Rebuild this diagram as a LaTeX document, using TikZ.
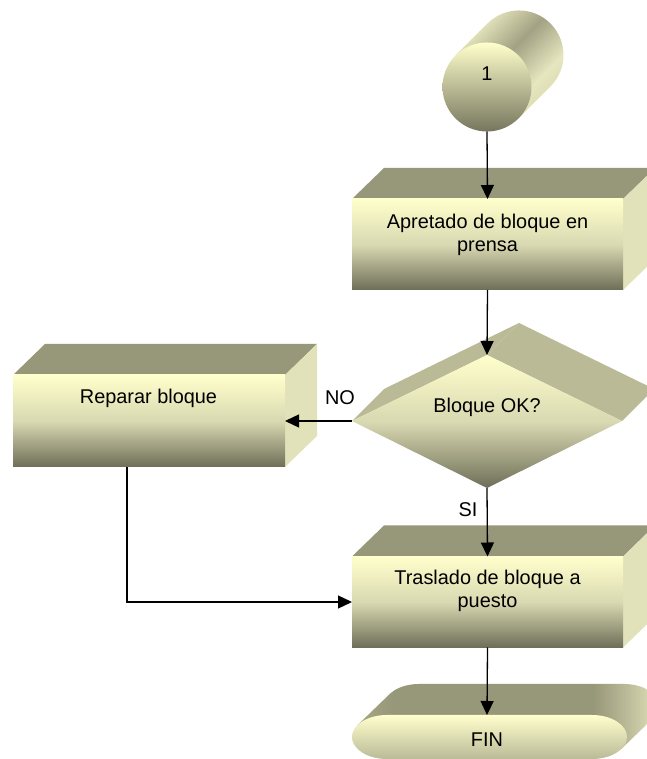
\documentclass[tikz,border=0pt]{standalone}
\usepackage{fontspec}
\setmainfont{Liberation Sans}
\usetikzlibrary{arrows.meta,calc}

\definecolor{lite}{HTML}{FFFFCC}
\definecolor{mid}{HTML}{D9D9B2}
\definecolor{dark}{HTML}{6E6E58}
\definecolor{topface}{HTML}{979779}
\definecolor{sideface}{HTML}{E2E2BA}
\definecolor{slope}{HTML}{BABA96}
\definecolor{cyledge}{HTML}{DEDEB4}
\definecolor{cylhi}{HTML}{E6E6BF}
\definecolor{cyldark}{HTML}{A2A284}
\definecolor{discmid}{HTML}{D6D6AE}
\definecolor{discbot}{HTML}{76765E}
\definecolor{finmid}{HTML}{F0F0C4}
\definecolor{finbot}{HTML}{BABA98}
\definecolor{finleft}{HTML}{A8A888}
\definecolor{finturn}{HTML}{BDBD9B}

% body of the start connector, lit across its axis
\pgfdeclareverticalshading{cylbody}{100bp}{color(0bp)=(cyledge); color(29bp)=(cyledge);
  color(36bp)=(cylhi); color(54bp)=(cyldark); color(71bp)=(sideface); color(100bp)=(sideface)}
% top face of the terminal, light where it turns at the right end
\pgfdeclarehorizontalshading{finback}{100bp}{color(0bp)=(finleft); color(25bp)=(finleft);
  color(31bp)=(topface); color(64bp)=(topface); color(70bp)=(finturn);
  color(75bp)=(sideface); color(100bp)=(sideface)}

% outline of the terminal (stadium) shape
\newcommand\finoutline{(387,44) -- (592,44) arc[start angle=90,end angle=-90,x radius=35,y radius=22] -- (387,0) arc[start angle=270,end angle=90,x radius=35,y radius=22] -- cycle}

\tikzset{
  slot/.style={draw=none, fill=none, inner sep=0pt, outer sep=0pt},
  boxslot/.style={slot, rectangle, minimum width=271pt, minimum height=91pt},
  front3d/.style={top color=lite, bottom color=dark, middle color=mid},
  lbl/.style={font=\fontsize{19.9}{23}\selectfont, align=center, text=black, inner sep=0pt},
  flow/.style={-{Triangle[length=14pt,width=13pt]}, line width=1.3pt, black},
}

\begin{document}
\begin{tikzpicture}[x=1pt,y=1pt]
\useasboundingbox (0,0) rectangle (646,759);
\fill[white] (0,0) rectangle (646,759);

% anchor shapes
\node[slot, circle, minimum size=89pt] (start) at (487,672) {};
\node[boxslot] (apretado) at (487.5,514.5) {};
\node[boxslot, minimum width=272pt, minimum height=92pt] (reparar) at (149,338) {};
\node[boxslot] (traslado) at (487.5,157) {};
\coordinate (qL) at (352,338);
\coordinate (qT) at (487,404);
\coordinate (qR) at (622,338);
\coordinate (qB) at (487,271);
\coordinate (fintop) at (487,44);

% --- start connector: cylinder ---
\shade[shading=cylbody, shading angle=45]
  ($(start.center)+(-31.5,31.5)$) -- ($(start.center)+(0.5,63.5)$)
  arc[start angle=135,end angle=-45,radius=44.5]
  -- ($(start.center)+(31.5,-31.5)$) -- cycle;
\shade[top color=lite, middle color=discmid, bottom color=discbot]
  (start.center) circle[radius=44.5];

% --- process boxes ---
\foreach \b in {apretado,reparar,traslado}{
  \fill[topface] (\b.north west) -- (\b.north east) -- ++(32,31)
    -- ($(\b.north west)+(32,31)$) -- cycle;
  \fill[sideface] (\b.south east) -- (\b.north east) -- ++(32,31)
    -- ($(\b.south east)+(32,31)$) -- cycle;
  \shade[front3d] (\b.south west) rectangle (\b.north east);
}

% --- decision ---
\fill[slope] (qL) -- ($(qL)+(32,32)$) -- ($(qT)+(32,32)$) -- (qT) -- cycle;
\fill[slope] (qT) -- ($(qT)+(32,32)$) -- ($(qR)+(32,32)$) -- (qR) -- cycle;
\shade[front3d] (qL) -- (qT) -- (qR) -- (qB) -- cycle;

% --- terminal ---
\begin{scope}
  \clip (357.4,33.7) -- (389.4,64.7) -- (653.6,41.3) -- (621.6,10.3) -- cycle
        [shift={(32,31)}] \finoutline;
  \shade[shading=finback] (357.4,10.3) rectangle (659,75);
\end{scope}
\shade[top color=lite, middle color=finmid, bottom color=finbot] \finoutline;

% --- texts ---
\node[lbl] (startlbl) at (487,685) {1};
\node[lbl] (apretadolbl) at (487.5,524.5) {Apretado de bloque en\\prensa};
\node[lbl] (decisionlbl) at (487,352) {Bloque OK?};
\node[lbl] (repararlbl) at (148.5,361) {Reparar bloque};
\node[lbl] (trasladolbl) at (487.5,168.5) {Traslado de bloque a\\puesto};
\node[lbl] (finlbl) at (487,19) {FIN};
\node[lbl] (nolbl) at (340,361) {NO};
\node[lbl] (silbl) at (468,249) {SI};

% --- connectors ---
\draw[flow] (start.south) -- (apretado.north);
\draw[flow] (apretado.south) -- (qT);
\draw[flow] (qL) -- (reparar.east);
\draw[flow] (qB) -- (traslado.north);
\coordinate (repout) at ($(reparar.south west)+(114,0)$);
\draw[flow] (repout) -- (repout |- traslado.west) -- (traslado.west);
\draw[flow] (traslado.south) -- (fintop);
\end{tikzpicture}
\end{document}
